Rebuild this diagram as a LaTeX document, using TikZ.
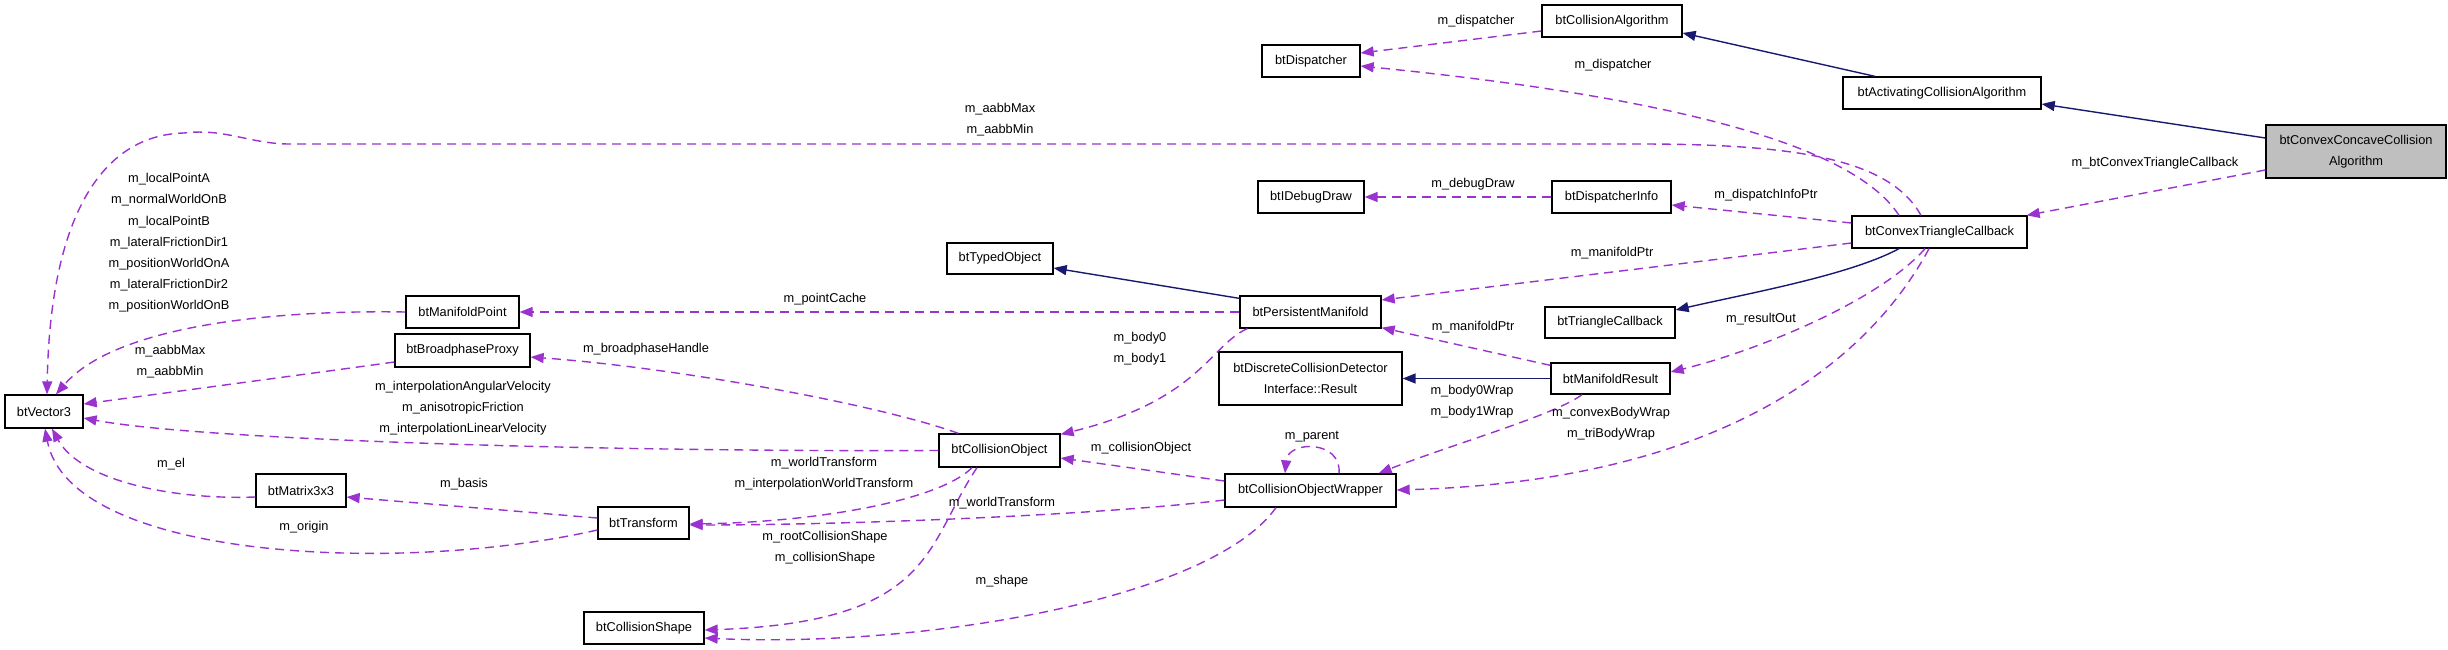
\documentclass[tikz,border=0pt]{standalone}
\usepackage{fontspec}
\setmainfont{Liberation Sans}
\usetikzlibrary{arrows.meta,calc}
\definecolor{usecol}{HTML}{9A32CD}
\definecolor{inhcol}{HTML}{191970}
\definecolor{mainfill}{HTML}{BFBFBF}
\begin{document}
\begin{tikzpicture}[x=1pt,y=-1pt,
  cls/.style={draw=black,line width=1.3pt,fill=white,inner sep=0pt,
    font=\fontsize{12.8}{21}\selectfont,align=center,minimum height=32pt},
  lab/.style={inner sep=0pt,font=\fontsize{12.8}{21.2}\selectfont,align=center},
  use/.style={color=usecol,line width=1.4pt,dash pattern=on 9pt off 6pt,
    -{Triangle[length=13pt,width=10pt]}},
  inh/.style={color=inhcol,line width=1.4pt,-{Triangle[length=13pt,width=10pt]}}]
\useasboundingbox (0,0) rectangle (2448,649);

% classes
\node[cls,fill=mainfill,minimum width=180pt,minimum height=53pt] (conv) at (2356,151.5) {btConvexConcaveCollision\\Algorithm};
\node[cls,minimum width=198pt] (act) at (1942,93) {btActivatingCollisionAlgorithm};
\node[cls,minimum width=140pt] (calg) at (1612,21) {btCollisionAlgorithm};
\node[cls,minimum width=98pt] (disp) at (1311,61) {btDispatcher};
\node[cls,minimum width=106pt] (dbg) at (1311,197) {btIDebugDraw};
\node[cls,minimum width=119pt] (dinfo) at (1611.5,197) {btDispatcherInfo};
\node[cls,minimum width=175pt] (ctc) at (1939.5,232) {btConvexTriangleCallback};
\node[cls,minimum width=106pt,minimum height=31pt] (typed) at (1000,258.5) {btTypedObject};
\node[cls,minimum width=141pt] (pm) at (1310.5,312) {btPersistentManifold};
\node[cls,minimum width=130pt,minimum height=31pt] (tricb) at (1610,322.5) {btTriangleCallback};
\node[cls,minimum width=183pt,minimum height=53pt] (dcdr) at (1310.5,378.5) {btDiscreteCollisionDetector\\Interface::Result};
\node[cls,minimum width=119pt,minimum height=31pt] (mres) at (1610.5,378.5) {btManifoldResult};
\node[cls,minimum width=121pt,minimum height=33pt] (cobj) at (999.5,450.5) {btCollisionObject};
\node[cls,minimum width=171pt,minimum height=33pt] (cow) at (1310.5,490.5) {btCollisionObjectWrapper};
\node[cls,minimum width=113pt] (mp) at (462.5,312) {btManifoldPoint};
\node[cls,minimum width=135pt,minimum height=33pt] (bp) at (462.5,350.5) {btBroadphaseProxy};
\node[cls,minimum width=78pt,minimum height=33pt] (vec) at (44,411.5) {btVector3};
\node[cls,minimum width=90pt,minimum height=33pt] (mat) at (301,490.5) {btMatrix3x3};
\node[cls,minimum width=91pt] (tr) at (643.5,523) {btTransform};
\node[cls,minimum width=120pt] (cs) at (644,628) {btCollisionShape};

% inheritance
\draw[inh] ($(conv.west)+(0,-13.5)$) -- ($(act.east)+(0,11)$);
\draw[inh] ($(act.north)+(-67,0)$) -- ($(calg.east)+(0,12)$);
\draw[inh] ($(ctc.south)+(-40.5,0)$) .. controls (1850,275) and (1750,293) .. ($(tricb.east)+(0,-12.5)$);
\draw[inh] ($(pm.north west)+(0,3)$) -- ($(typed.east)+(0,9.5)$);
\draw[inh] (mres.west) -- (dcdr.east);

% usage
\draw[use] ($(conv.west)+(0,18.5)$) -- ($(ctc.north east)+(-1,0)$);
\draw[use] ($(calg.west)+(0,10)$) -- ($(disp.east)+(0,-8)$);
\draw[use] ($(ctc.north)+(-40.5,0)$) .. controls (1850,140) and (1650,95) .. ($(disp.east)+(0,5)$);
\draw[use] ($(ctc.north)+(-18.5,0)$) .. controls (1890,160) and (1800,144) .. (1640,144) -- (290,144)
  .. controls (250,144) and (225,128) .. (184,133) .. controls (100,135) and (50,220) .. ($(vec.north)+(3,0)$);
\draw[use] (dinfo.west) -- (dbg.east);
\draw[use] ($(ctc.west)+(0,-9)$) -- ($(dinfo.east)+(0,8)$);
\draw[use] ($(ctc.west)+(0,11)$) -- ($(pm.east)+(0,-12)$);
\draw[use] ($(ctc.south)+(-14.5,0)$) .. controls (1880,300) and (1760,350) .. ($(mres.east)+(0,-6.5)$);
\draw[use] ($(ctc.south)+(-10.5,0)$) .. controls (1880,340) and (1750,480) .. ($(cow.east)+(0,-0.5)$);
\draw[use] ($(mres.north west)+(0,3)$) -- ($(pm.south east)+(0,-1)$);
\draw[use] ($(mres.south)+(-28.5,0)$) .. controls (1555,415) and (1450,445) .. ($(cow.north east)+(-18,0)$);
\draw[use] ($(cow.north)+(28.5,0)$) .. controls (1342,440) and (1288,440) .. ($(cow.north)+(-25.5,0)$);
\draw[use] ($(cow.west)+(0,-9.5)$) -- ($(cobj.east)+(0,7.5)$);
\draw[use] ($(cow.west)+(0,9.5)$) .. controls (1100,515) and (850,525) .. ($(tr.east)+(0,2)$);
\draw[use] ($(cow.south)+(-34.5,0)$) .. controls (1210,600) and (920,648) .. ($(cs.east)+(0,10)$);
\draw[use] (pm.west) -- (mp.east);
\draw[use] ($(pm.south west)+(8,0)$) .. controls (1210,345) and (1200,400) .. ($(cobj.north east)+(0,1)$);
\draw[use] (mp.west) .. controls (300,310) and (120,320) .. ($(vec.north)+(12,0)$);
\draw[use] ($(bp.west)+(0,11.5)$) .. controls (300,375) and (150,395) .. ($(vec.east)+(0,-7.5)$);
\draw[use] ($(cobj.north west)+(20,0)$) .. controls (880,405) and (680,368) .. ($(bp.east)+(0,6.5)$);
\draw[use] (cobj.west) .. controls (600,452) and (200,440) .. ($(vec.east)+(0,6.5)$);
\draw[use] ($(cobj.south)+(-27.5,0)$) .. controls (940,500) and (820,522) .. ($(tr.east)+(0,1)$);
\draw[use] ($(cobj.south)+(-22.5,0)$) .. controls (925,545) and (935,622) .. ($(cs.east)+(0,2)$);
\draw[use] ($(mat.west)+(0,6.5)$) .. controls (170,500) and (80,480) .. ($(vec.south)+(8,0)$);
\draw[use] ($(tr.west)+(0,-5)$) -- ($(mat.east)+(0,6.5)$);
\draw[use] ($(tr.west)+(0,7)$) .. controls (400,575) and (70,560) .. ($(vec.south)+(1,0)$);

% labels
\node[lab] (l1) at (1476,21) {m\_dispatcher};
\node[lab] (l2) at (1613,65) {m\_dispatcher};
\node[lab] (l3) at (1000,120) {m\_aabbMax\\m\_aabbMin};
\node[lab] (l4) at (2155,163) {m\_btConvexTriangleCallback};
\node[lab] (l5) at (1473,184) {m\_debugDraw};
\node[lab] (l6) at (1766,195) {m\_dispatchInfoPtr};
\node[lab] (l7) at (169,243) {m\_localPointA\\m\_normalWorldOnB\\m\_localPointB\\m\_lateralFrictionDir1\\m\_positionWorldOnA\\m\_lateralFrictionDir2\\m\_positionWorldOnB};
\node[lab] (l8) at (1612,253) {m\_manifoldPtr};
\node[lab] (l9) at (825,299) {m\_pointCache};
\node[lab] (l10) at (1761,319) {m\_resultOut};
\node[lab] (l11) at (1473,327) {m\_manifoldPtr};
\node[lab] (l12) at (1140,349) {m\_body0\\m\_body1};
\node[lab] (l13) at (646,349) {m\_broadphaseHandle};
\node[lab] (l14) at (170,361.5) {m\_aabbMax\\m\_aabbMin};
\node[lab] (l15) at (463,408) {m\_interpolationAngularVelocity\\m\_anisotropicFriction\\m\_interpolationLinearVelocity};
\node[lab] (l16) at (1472,401.5) {m\_body0Wrap\\m\_body1Wrap};
\node[lab] (l17) at (1611,424) {m\_convexBodyWrap\\m\_triBodyWrap};
\node[lab] (l18) at (1312,437) {m\_parent};
\node[lab] (l19) at (1141,448) {m\_collisionObject};
\node[lab] (l20) at (824,473.5) {m\_worldTransform\\m\_interpolationWorldTransform};
\node[lab] (l21) at (171,464) {m\_el};
\node[lab] (l22) at (464,484) {m\_basis};
\node[lab] (l23) at (1002,503) {m\_worldTransform};
\node[lab] (l24) at (304,527) {m\_origin};
\node[lab] (l25) at (825,548) {m\_rootCollisionShape\\m\_collisionShape};
\node[lab] (l26) at (1002,581) {m\_shape};
\end{tikzpicture}
\end{document}
